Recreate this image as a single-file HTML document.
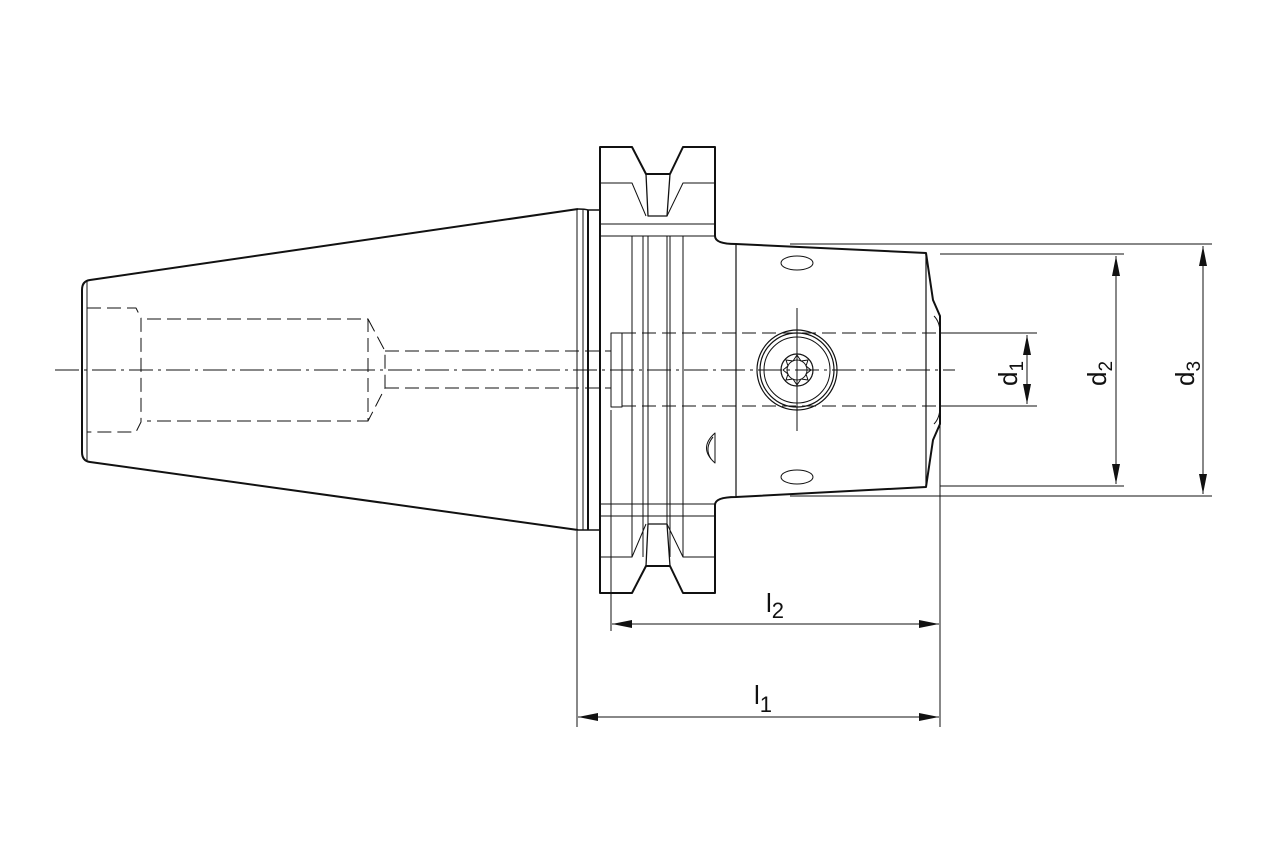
<!DOCTYPE html>
<html><head><meta charset="utf-8"><style>
html,body{margin:0;padding:0;background:#fff;}
svg{display:block}
text{font-family:"Liberation Sans",Arial,sans-serif;fill:#111}
</style></head><body>
<svg width="1280" height="853" viewBox="0 0 1280 853" xmlns="http://www.w3.org/2000/svg">
<defs>
<marker id="a" viewBox="0 0 20 8" refX="20" refY="4" markerWidth="20" markerHeight="8" markerUnits="userSpaceOnUse" orient="auto-start-reverse"><path d="M0,0 L20,4 L0,8 z" fill="#111"/></marker>
</defs>
<g fill="none" stroke="#111" stroke-linejoin="round">
<!-- taper -->
<path d="M578,209 L90,280 Q82,281 82,290 L82,452 Q82,461 90,462 L578,530" stroke-width="2"/>
<line x1="87" y1="280" x2="87" y2="462" stroke-width="1"/>
<line x1="577" y1="209" x2="577" y2="530" stroke-width="1"/>
<line x1="583" y1="210" x2="583" y2="530" stroke-width="1"/>
<path d="M578,209 Q585,209 588,210 L600,210 M578,530 Q585,530 588,530 L600,530" stroke-width="1.5"/>
<line x1="588" y1="210" x2="588" y2="530" stroke-width="2"/>
<!-- flange -->
<path d="M600,147 L632,147 L646,174 L670,174 L683,147 L715,147 L715,236 Q715,244 736,244 L926,253 L933,300 L940,316 L940,424 L933,440 L926,487 L736,497 Q715,497 715,505 L715,593 L683,593 L670,566 L646,566 L632,593 L600,593 Z" stroke-width="2"/>
<path d="M646,174 L648,216 L667,216 L670,174 M646,566 L648,524 L667,524 L670,566" stroke-width="1.3"/>
<path d="M632,147 L646,174 M600,183 L632,183 L646,216 M715,183 L683,183 L667,216" stroke-width="1"/>
<path d="M600,557 L632,557 L646,524 M715,557 L683,557 L667,524" stroke-width="1"/>
<path d="M600,224 L715,224 M600,236 L715,236 M600,516 L715,516 M600,504 L715,504" stroke-width="1"/>
<path d="M632,236 L632,557 M643,236 L643,557 M648,236 L648,524 M667,236 L667,524 M670,236 L670,557 M683,236 L683,557" stroke-width="1"/>
<line x1="736" y1="244" x2="736" y2="497" stroke-width="1.2"/>
<path d="M926,253 L926,487" stroke-width="1.2"/>
<path d="M934,316 Q940,322 940,333 M934,424 Q940,418 940,406" stroke-width="1"/>
<ellipse cx="797" cy="263" rx="16" ry="7" stroke-width="1"/>
<ellipse cx="797" cy="477" rx="16" ry="7" stroke-width="1"/>
<path d="M715,433 Q698,448 715,463 Z" stroke-width="1" fill="#fff"/>
<path d="M713,437 Q704,448 711,459" stroke-width="1"/>
<!-- screw -->
<circle cx="797" cy="370" r="40" stroke-width="1.2"/>
<circle cx="797" cy="370" r="37" stroke-width="1.2"/>
<circle cx="797" cy="370" r="33" stroke-width="1"/>
<circle cx="797" cy="370" r="16" stroke-width="1.2"/>
<circle cx="797" cy="370" r="10" stroke-width="1"/>
<path d="M797,355 L801,361 L808,360 L806,366 L811,370 L806,374 L808,380 L801,379 L797,385 L793,379 L786,380 L788,374 L783,370 L788,366 L786,360 L793,361 Z" stroke-width="1"/>
<line x1="797" y1="308" x2="797" y2="431" stroke-width="1"/>
<rect x="611" y="333" width="11" height="74" stroke-width="1"/>
<line x1="611" y1="410" x2="611" y2="631" stroke-width="1"/>
<!-- internal dashed -->
<g stroke-width="1" stroke-dasharray="14,6">
<path d="M87,308 L136,308 L141,318 L141,422 L136,432 L87,432"/>
<path d="M147,319 L368,319 L368,421 L147,421"/>
<path d="M368,319 L385,351 L385,388 L368,421"/>
<path d="M385,351 L611,351 M385,388 L611,388"/>
<path d="M622,333 L940,333 M622,406 L940,406"/>
</g>
<line x1="55" y1="370" x2="955" y2="370" stroke-width="1" stroke-dasharray="24,5,3,5"/>
<!-- dimensions -->
<g stroke-width="1">
<path d="M790,244 L1212,244 M790,496 L1212,496 M940,254 L1124,254 M940,486 L1124,486 M940,333 L1037,333 M940,406 L1037,406"/>
<path d="M577,531 L577,727 M940,424 L940,727"/>
<line x1="1203" y1="246" x2="1203" y2="494" marker-start="url(#a)" marker-end="url(#a)"/>
<line x1="1116" y1="256" x2="1116" y2="484" marker-start="url(#a)" marker-end="url(#a)"/>
<line x1="1027" y1="335" x2="1027" y2="404" marker-start="url(#a)" marker-end="url(#a)"/>
<line x1="612" y1="624" x2="939" y2="624" marker-start="url(#a)" marker-end="url(#a)"/>
<line x1="578" y1="717" x2="939" y2="717" marker-start="url(#a)" marker-end="url(#a)"/>
</g>
</g>
<g font-size="26">
<text transform="translate(1017,386) rotate(-90)">d<tspan font-size="19" dy="6">1</tspan></text>
<text transform="translate(1106,386) rotate(-90)">d<tspan font-size="19" dy="6">2</tspan></text>
<text transform="translate(1194,386) rotate(-90)">d<tspan font-size="19" dy="6">3</tspan></text>
<text x="766" y="612">l<tspan font-size="22" dy="6">2</tspan></text>
<text x="754" y="704">l<tspan font-size="22" dy="8">1</tspan></text>
</g>
</svg>
</body></html>
